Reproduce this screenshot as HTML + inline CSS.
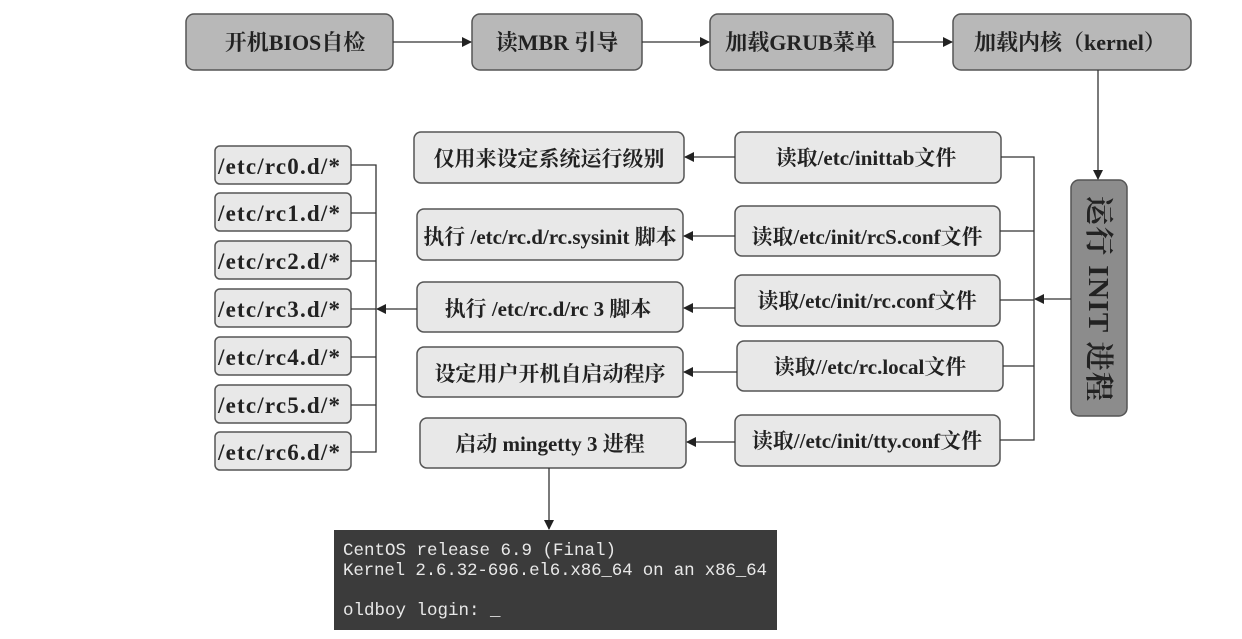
<!DOCTYPE html>
<html><head><meta charset="utf-8"><style>
html,body{margin:0;padding:0;background:#fff;}
svg{display:block;}
text{font-family:"Liberation Serif","Noto Serif CJK SC","Noto Sans CJK SC",serif;font-weight:bold;fill:#222;}
.m{font-family:"Liberation Mono",monospace;font-weight:normal;fill:#e8e8e8;font-size:17.5px;}
</style></head><body>
<svg width="1242" height="639" viewBox="0 0 1242 639" xmlns="http://www.w3.org/2000/svg">
<defs><marker id="a" markerWidth="10" markerHeight="10" refX="9" refY="5" orient="auto" markerUnits="userSpaceOnUse"><path d="M0,0 L10,5 L0,10 z" fill="#222"/></marker></defs>
<g stroke="#555" stroke-width="1.5">
<rect x="186" y="14" width="207" height="56" rx="8" fill="#b8b8b8"/>
<rect x="472" y="14" width="170" height="56" rx="8" fill="#b8b8b8"/>
<rect x="710" y="14" width="183" height="56" rx="8" fill="#b8b8b8"/>
<rect x="953" y="14" width="238" height="56" rx="8" fill="#b8b8b8"/>
<rect x="1071" y="180" width="56" height="236" rx="8" fill="#8c8c8c"/>
<g fill="#e8e8e8">
<rect x="735" y="132" width="266" height="51" rx="7"/>
<rect x="735" y="206" width="265" height="50" rx="7"/>
<rect x="735" y="275" width="265" height="51" rx="7"/>
<rect x="737" y="341" width="266" height="50" rx="7"/>
<rect x="735" y="415" width="265" height="51" rx="7"/>
<rect x="414" y="132" width="270" height="51" rx="7"/>
<rect x="417" y="209" width="266" height="51" rx="7"/>
<rect x="417" y="282" width="266" height="50" rx="7"/>
<rect x="417" y="347" width="266" height="50" rx="7"/>
<rect x="420" y="418" width="266" height="50" rx="7"/>
<rect x="215" y="146" width="136" height="38" rx="5"/>
<rect x="215" y="193" width="136" height="38" rx="5"/>
<rect x="215" y="241" width="136" height="38" rx="5"/>
<rect x="215" y="289" width="136" height="38" rx="5"/>
<rect x="215" y="337" width="136" height="38" rx="5"/>
<rect x="215" y="385" width="136" height="38" rx="5"/>
<rect x="215" y="432" width="136" height="38" rx="5"/>
</g>
</g>
<g stroke="#333" stroke-width="1.3" fill="none">
<line x1="393" y1="42" x2="471" y2="42" marker-end="url(#a)"/>
<line x1="642" y1="42" x2="709" y2="42" marker-end="url(#a)"/>
<line x1="893" y1="42" x2="952" y2="42" marker-end="url(#a)"/>
<line x1="1098" y1="70" x2="1098" y2="179" marker-end="url(#a)"/>
<line x1="1071" y1="299" x2="1035" y2="299" marker-end="url(#a)"/>
<path d="M1001,157 H1034 V440 H1000 M1000,231 H1034 M1000,300 H1034 M1003,366 H1034"/>
<line x1="735" y1="157" x2="685" y2="157" marker-end="url(#a)"/>
<line x1="735" y1="236" x2="684" y2="236" marker-end="url(#a)"/>
<line x1="735" y1="308" x2="684" y2="308" marker-end="url(#a)"/>
<line x1="737" y1="372" x2="684" y2="372" marker-end="url(#a)"/>
<line x1="735" y1="442" x2="687" y2="442" marker-end="url(#a)"/>
<line x1="417" y1="309" x2="377" y2="309" marker-end="url(#a)"/>
<path d="M351,165 H376 V452 H351 M351,213 H376 M351,261 H376 M351,309 H376 M351,357 H376 M351,405 H376"/>
<line x1="549" y1="468" x2="549" y2="529" marker-end="url(#a)"/>
</g>
<g font-size="22" text-anchor="middle">
<text x="295" y="50">开机BIOS自检</text>
<text x="557" y="50">读MBR 引导</text>
<text x="801" y="50">加载GRUB菜单</text>
<text x="1070" y="50">加载内核（kernel）</text>
</g>
<g font-size="21" text-anchor="middle">
<text x="866" y="165">读取/etc/inittab文件</text>
<text x="867" y="244">读取/etc/init/rcS.conf文件</text>
<text x="867" y="308">读取/etc/init/rc.conf文件</text>
<text x="870" y="374">读取//etc/rc.local文件</text>
<text x="867" y="448">读取//etc/init/tty.conf文件</text>
<text x="549" y="166">仅用来设定系统运行级别</text>
<text x="550" y="244">执行 /etc/rc.d/rc.sysinit 脚本</text>
<text x="548" y="316">执行 /etc/rc.d/rc 3 脚本</text>
<text x="550" y="381">设定用户开机自启动程序</text>
<text x="550" y="451">启动 mingetty 3 进程</text>
</g>
<g font-size="23">
<text x="218" y="174" textLength="122">/etc/rc0.d/*</text>
<text x="218" y="221" textLength="122">/etc/rc1.d/*</text>
<text x="218" y="269" textLength="122">/etc/rc2.d/*</text>
<text x="218" y="317" textLength="122">/etc/rc3.d/*</text>
<text x="218" y="365" textLength="122">/etc/rc4.d/*</text>
<text x="218" y="413" textLength="122">/etc/rc5.d/*</text>
<text x="218" y="460" textLength="122">/etc/rc6.d/*</text>
</g>
<text font-size="29" textLength="205" transform="translate(1089,196) rotate(90)">运行 INIT 进程</text>
<rect x="334" y="530" width="443" height="100" fill="#3b3b3b"/>
<text class="m" x="343" y="555">CentOS release 6.9 (Final)</text>
<text class="m" x="343" y="575" textLength="424">Kernel 2.6.32-696.el6.x86_64 on an x86_64</text>
<text class="m" x="343" y="615">oldboy login: _</text>
</svg>
</body></html>
